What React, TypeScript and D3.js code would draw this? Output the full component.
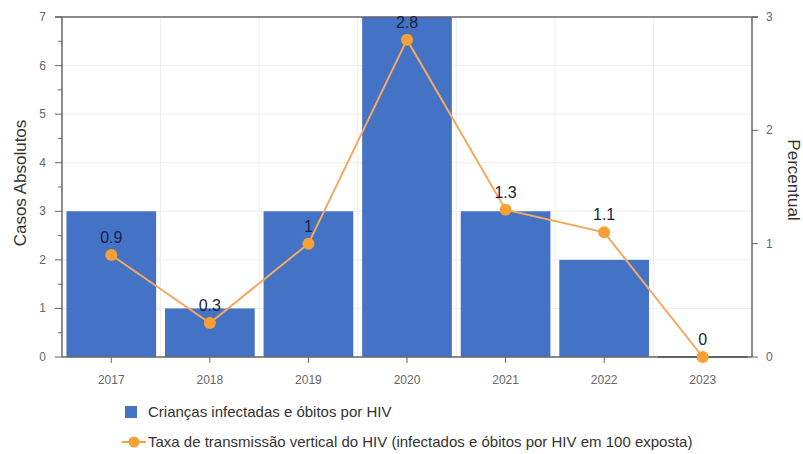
import React from "react";
import * as d3 from "d3";

const categories = ["2017", "2018", "2019", "2020", "2021", "2022", "2023"];
const casos = [3, 1, 3, 7, 3, 2, 0];
const taxa = [0.9, 0.3, 1, 2.8, 1.3, 1.1, 0];
const taxaLabels = ["0.9", "0.3", "1", "2.8", "1.3", "1.1", "0"];
const leftTicks = [0, 1, 2, 3, 4, 5, 6, 7];
const leftMinor = [0.5, 1.5, 2.5, 3.5, 4.5, 5.5, 6.5];
const rightTicks = [0, 1, 2, 3];
const legendBar = "Crianças infectadas e óbitos por HIV";
const legendLine = "Taxa de transmissão vertical do HIV (infectados e óbitos por HIV em 100 exposta)";

const W = 803, H = 454;
const L = 62, R = 752, T = 17, B = 357;
const FONT = "'Liberation Sans', Arial, sans-serif";

export default function App() {
  const x = d3.scaleBand().domain(categories).range([L, R]).paddingInner(0.09).paddingOuter(0.045);
  const xb = d3.scaleBand().domain(categories).range([L, R]);
  const yL = d3.scaleLinear().domain([0, 7]).range([B, T]);
  const yR = d3.scaleLinear().domain([0, 3]).range([B, T]);
  const line = d3.line<number>().x((_, i) => xb(categories[i])! + xb.bandwidth() / 2).y((d) => yR(d));
  const barColor = "#4472c4";
  const orange = "#f7a035";
  return (
    <svg width={W} height={H} style={{ position: "absolute", left: 0, top: 0, background: "#fff" }} fontFamily={FONT}>
      {/* grid */}
      {leftTicks.map((t) => (
        <line key={"hg" + t} x1={L} x2={R} y1={yL(t)} y2={yL(t)} stroke="#eeeeee" />
      ))}
      {categories.slice(1).map((c) => (
        <line key={"vg" + c} x1={xb(c)} x2={xb(c)} y1={T} y2={B} stroke="#eeeeee" />
      ))}
      {/* bars */}
      {casos.map((v, i) => {
        const h = Math.max(B - yL(v), 0);
        return v > 0 ? (
          <rect key={"b" + i} x={x(categories[i])} y={yL(v)} width={x.bandwidth()} height={h} fill={barColor} />
        ) : (
          <rect key={"b" + i} x={x(categories[i])} y={yL(v) - 1} width={x.bandwidth()} height={2} fill="#505a6e" />
        );
      })}
      {/* axes */}
      <line x1={L - 7} x2={R + 6} y1={T} y2={T} stroke="#666" strokeWidth={1.5} />
      <line x1={L} x2={R} y1={B} y2={B} stroke="#666" strokeWidth={1.5} />
      <line x1={L} x2={L} y1={T} y2={B} stroke="#666" strokeWidth={1.5} />
      <line x1={R} x2={R} y1={T} y2={B} stroke="#666" strokeWidth={1.5} />
      {leftTicks.map((t) => (
        <g key={"lt" + t}>
          <line x1={L - 7} x2={L} y1={yL(t)} y2={yL(t)} stroke="#666" />
          <text x={46} y={yL(t) + 4} textAnchor="end" fontSize={12} fill="#666">{t}</text>
        </g>
      ))}
      {leftMinor.map((t) => (
        <line key={"lm" + t} x1={L - 4} x2={L} y1={yL(t)} y2={yL(t)} stroke="#666" />
      ))}
      {rightTicks.map((t) => (
        <g key={"rt" + t}>
          <line x1={R} x2={R + 6} y1={yR(t)} y2={yR(t)} stroke="#666" />
          <text x={766} y={yR(t) + 4} textAnchor="start" fontSize={12} fill="#666">{t}</text>
        </g>
      ))}
      {categories.map((c) => {
        const cx = xb(c)! + xb.bandwidth() / 2;
        return (
          <g key={"xt" + c}>
            <line x1={cx} x2={cx} y1={B} y2={B + 6} stroke="#666" />
            <text x={cx} y={384} textAnchor="middle" fontSize={12} fill="#666">{c}</text>
          </g>
        );
      })}
      {/* axis titles */}
      <text transform="translate(26,183) rotate(-90)" textAnchor="middle" fontSize={17} fill="#333">Casos Absolutos</text>
      <text transform="translate(788,180) rotate(90)" textAnchor="middle" fontSize={17} fill="#333">Percentual</text>
      {/* line */}
      <path d={line(taxa) || ""} fill="none" stroke="#f5a860" strokeWidth={2} />
      {taxa.map((v, i) => {
        const cx = xb(categories[i])! + xb.bandwidth() / 2;
        return (
          <g key={"p" + i}>
            <circle cx={cx} cy={yR(v)} r={6} fill={orange} />
            <text x={cx} y={yR(v) - 12} textAnchor="middle" fontSize={16} fill="#1a2340">{taxaLabels[i]}</text>
          </g>
        );
      })}
      {/* legend */}
      <rect x={125} y={406} width={12} height={12} fill={barColor} />
      <text x={148} y={417} fontSize={15} fill="#333">{legendBar}</text>
      <line x1={122} x2={146} y1={442} y2={442} stroke={orange} strokeWidth={2} />
      <circle cx={134} cy={442} r={5.5} fill={orange} />
      <text x={148} y={447} fontSize={15} fill="#333">{legendLine}</text>
    </svg>
  );
}
